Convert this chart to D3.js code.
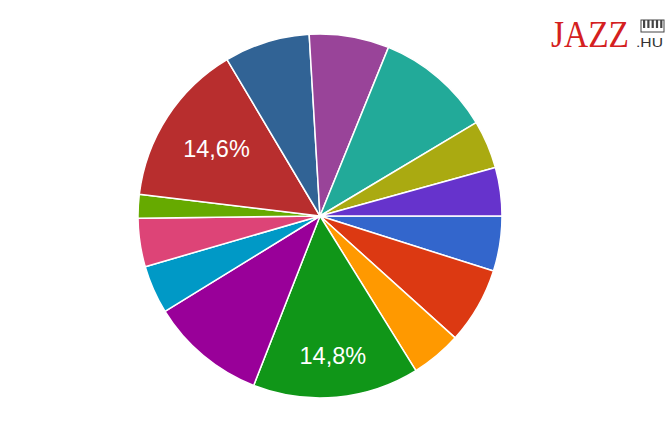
<!DOCTYPE html>
<html><head><meta charset="utf-8">
<script src="https://cdn.jsdelivr.net/npm/d3@7"></script>
<style>html,body{margin:0;padding:0;background:#fff;}svg{display:block;}</style>
</head><body>
<svg id="c" width="670" height="426"></svg>
<script>
const categories = ["A","B","C","D","E","F","G","H","I","J","K","L","M","N"];
const values = [4.9, 6.8, 4.5, 14.8, 10.3, 4.3, 4.3, 2.1, 14.6, 7.6, 7.1, 10.3, 4.3, 4.3];
const colors = ["#3366cc","#dc3912","#ff9900","#109618","#990099","#0099c6","#dd4477","#66aa00","#b82e2e","#316395","#994499","#22aa99","#aaaa11","#6633cc"];
const labelThreshold = 12;

const svg = d3.select("#c");
const cx = 320, cy = 216, R = 182;
const total = d3.sum(values);
const pie = d3.pie().sort(null).value(d => d)
  .startAngle(Math.PI/2).endAngle(Math.PI/2 + 2*Math.PI);
const arcs = pie(values);
const arc = d3.arc().innerRadius(0).outerRadius(R);
const g = svg.append("g").attr("transform", `translate(${cx},${cy})`);
g.selectAll("path").data(arcs).join("path")
  .attr("d", arc)
  .attr("fill", (d,i) => colors[i])
  .attr("stroke", "#fff").attr("stroke-width", 1.5).attr("stroke-linejoin","round");

const fmt = v => (v/total*100).toFixed(1).replace(".", ",") + "%";
const labels = g.selectAll("text.lbl").data(arcs.filter(d => d.value/total*100 > labelThreshold)).join("text")
  .attr("class","lbl")
  .attr("text-anchor","middle").attr("dominant-baseline","central")
  .attr("font-family","Arial, 'Liberation Sans', sans-serif")
  .attr("font-size", 23.5).attr("fill","#fff")
  .text(d => fmt(d.value));
// place each label along its mid-angle so that the farthest box corner sits at 0.865 R
labels.each(function(d){
  const bb = this.getBBox();
  const w = bb.width/2, h = 10;
  const a = (d.startAngle + d.endAngle)/2;
  const ux = Math.sin(a), uy = -Math.cos(a);
  const sx = Math.sign(ux)||1, sy = Math.sign(uy)||1;
  const target = 0.865*R;
  let r = 0;
  for (let t = 0; t <= R; t += 0.5) {
    const fx = t*ux + sx*w, fy = t*uy + sy*h;
    if (Math.hypot(fx, fy) > target) break;
    r = t;
  }
  d3.select(this).attr("transform", `translate(${r*ux},${r*uy})`);
});

// Logo
const logo = svg.append("g").attr("transform","translate(551,47)");
logo.append("text").attr("x",0).attr("y",0)
  .attr("font-family","'Liberation Serif', serif").attr("font-size",37)
  .attr("fill","#d42020").attr("textLength",78).attr("lengthAdjust","spacingAndGlyphs")
  .text("JAZZ");
logo.append("text").attr("x",85).attr("y",0)
  .attr("font-family","'Liberation Sans', Arial, sans-serif").attr("font-size",13)
  .attr("fill","#333").attr("textLength",27).attr("lengthAdjust","spacingAndGlyphs").text(".HU");
const keys = logo.append("g").attr("transform","translate(90,-27)");
keys.append("rect").attr("width",23).attr("height",12).attr("fill","#fff").attr("stroke","#444").attr("stroke-width",1);
d3.range(5).forEach(k => keys.append("rect").attr("x",2+k*4.3).attr("y",0).attr("width",2.2).attr("height",8).attr("fill","#444"));
</script>
</body></html>
